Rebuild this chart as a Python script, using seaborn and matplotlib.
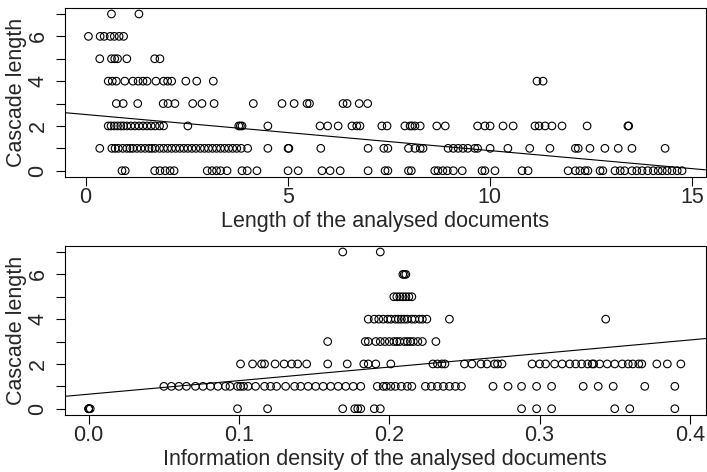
import numpy as np
import pandas as pd
import matplotlib
matplotlib.use("Agg")
import matplotlib.pyplot as plt
import seaborn as sns

# Cascade length (0..7) against document length, grouped by cascade level
length_by_level = {
    7: [0.64, 1.32],
    6: [0.07, 0.36, 0.46, 0.61, 0.71, 0.83, 0.94],
    5: [0.35, 0.64, 0.72, 0.79, 1.02, 1.71, 1.84],
    4: [0.56, 0.66, 0.76, 0.97, 1.17, 1.3, 1.42, 1.52, 1.74, 1.93, 2.03, 2.13,
        2.48, 2.75, 3.16, 11.17, 11.32],
    3: [0.76, 0.93, 1.29, 1.92, 2.04, 2.21, 2.65, 2.88, 3.18, 4.15, 4.86, 5.16,
        5.48, 5.54, 6.37, 6.47, 6.77, 6.98],
    2: [0.56, 0.63, 0.71, 0.79, 0.87, 0.94, 1.02, 1.12, 1.22, 1.32, 1.42, 1.52,
        1.62, 1.72, 1.83, 1.93, 2.53, 3.79, 3.83, 3.87, 4.51, 5.8, 5.99, 6.25,
        6.59, 6.71, 6.79, 7.33, 7.46, 7.9, 8.03, 8.08, 8.15, 8.28, 8.69, 8.9,
        9.7, 9.88, 10.01, 10.33, 10.58, 11.12, 11.22, 11.37, 11.54, 11.79,
        12.41, 13.42, 13.44],
    1: [0.35, 0.65, 0.73, 0.81, 0.92, 1.02, 1.1, 1.17, 1.27, 1.37, 1.47, 1.57,
        1.64, 1.72, 1.83, 1.93, 2.03, 2.13, 2.23, 2.33, 2.43, 2.53, 2.63, 2.73,
        2.84, 2.94, 3.04, 3.14, 3.24, 3.34, 3.44, 3.54, 3.64, 3.74, 3.85, 4.01,
        4.51, 5.01, 5.03, 5.82, 6.99, 7.38, 7.48, 7.99, 8.15, 8.28, 8.35, 8.97,
        9.1, 9.22, 9.34, 9.46, 9.63, 9.7, 10.01, 10.45, 10.99, 11.49, 12.12,
        12.19, 12.48, 12.85, 13.18, 13.52, 14.34],
    0: [0.9, 0.98, 1.71, 1.84, 1.97, 2.09, 2.19, 3.01, 3.13, 3.24, 3.34, 3.5,
        3.87, 4.0, 4.24, 5.01, 5.26, 5.85, 6.05, 6.3, 6.99, 7.41, 7.48, 7.99,
        8.06, 8.64, 8.72, 8.84, 8.95, 9.1, 9.32, 9.81, 9.88, 10.13, 10.8,
        10.95, 11.94, 12.12, 12.23, 12.36, 12.43, 12.73, 12.8, 13.1, 13.23,
        13.34, 13.52, 13.64, 13.77, 13.91, 14.05, 14.17, 14.27, 14.39, 14.51,
        14.64, 14.76],
}

# Cascade length against information density, grouped by cascade level
density_by_level = {
    7: [0.169, 0.194],
    6: [0.209, 0.210, 0.211],
    5: [0.203, 0.205, 0.207, 0.209, 0.211, 0.213, 0.215],
    4: [0.186, 0.190, 0.193, 0.196, 0.199, 0.201, 0.204, 0.206, 0.208, 0.210,
        0.212, 0.215, 0.217, 0.220, 0.222, 0.225, 0.240, 0.344],
    3: [0.159, 0.184, 0.186, 0.191, 0.194, 0.197, 0.200, 0.203, 0.205, 0.207,
        0.210, 0.212, 0.214, 0.216, 0.219, 0.222, 0.231],
    2: [0.101, 0.109, 0.115, 0.117, 0.124, 0.130, 0.135, 0.139, 0.145, 0.159,
        0.172, 0.183, 0.186, 0.191, 0.201, 0.229, 0.232, 0.235, 0.237, 0.250,
        0.255, 0.261, 0.265, 0.270, 0.272, 0.275, 0.295, 0.300, 0.304, 0.310,
        0.315, 0.320, 0.324, 0.328, 0.332, 0.335, 0.336, 0.340, 0.345, 0.350,
        0.355, 0.359, 0.362, 0.366, 0.368, 0.378, 0.385, 0.394],
    1: [0.050, 0.055, 0.060, 0.065, 0.071, 0.076, 0.081, 0.086, 0.091, 0.094,
        0.099, 0.101, 0.103, 0.106, 0.111, 0.117, 0.121, 0.125, 0.131, 0.137,
        0.141, 0.146, 0.151, 0.156, 0.161, 0.166, 0.171, 0.176, 0.181, 0.192,
        0.196, 0.198, 0.201, 0.204, 0.208, 0.212, 0.215, 0.224, 0.228, 0.232,
        0.236, 0.240, 0.244, 0.248, 0.269, 0.279, 0.288, 0.298, 0.308, 0.329,
        0.339, 0.349, 0.370, 0.390],
    0: [0.0, 0.0, 0.0, 0.001, 0.099, 0.119, 0.169, 0.177, 0.179, 0.181, 0.190,
        0.194, 0.288, 0.298, 0.308, 0.350, 0.360, 0.390],
}

# Linear trend lines (intercept, slope) for each panel
length_trend = (2.51, -0.161)
density_trend = (0.65, 6.05)

length_ticks = [0, 5, 10, 15]
density_ticks = [0.0, 0.1, 0.2, 0.3, 0.4]
density_tick_labels = ["0.0", "0.1", "0.2", "0.3", "0.4"]
cascade_ticks = [0, 1, 2, 3, 4, 5, 6, 7]
cascade_labels = ["0", "", "2", "", "4", "", "6", ""]


def to_frame(levels, xname):
    rows = [(x, y) for y, xs in levels.items() for x in xs]
    return pd.DataFrame(rows, columns=[xname, "cascade"])


docs = to_frame(length_by_level, "length")
dens = to_frame(density_by_level, "density")

sns.set_style("ticks")
plt.rcParams["font.family"] = ["Liberation Sans", "DejaVu Sans"]
plt.rcParams["axes.linewidth"] = 0.8
TICK_FS = 15.5
LABEL_FS = 15.5

fig = plt.figure(figsize=(7.07, 4.72), dpi=100)
W, H = 707, 472
LEFT, RIGHT = 65, 705.5
ax1 = fig.add_axes([LEFT / W, 1 - 177 / H, (RIGHT - LEFT) / W, 169.3 / H])
ax2 = fig.add_axes([LEFT / W, 1 - 415 / H, (RIGHT - LEFT) / W, 169.3 / H])


def panel(ax, df, xcol, xlim, xticks, xticklabels, xlabel, trend):
    ax.set_xlim(*xlim)
    ax.set_ylim(-0.28, 7.28)
    sns.scatterplot(data=df, x=xcol, y="cascade", ax=ax, marker="o", s=30,
                    facecolor="none", edgecolor="black", linewidth=0.8,
                    legend=False, zorder=3)
    ax.axline((0, trend[0]), slope=trend[1], color="black", lw=0.8)
    ax.set_xlim(*xlim)
    ax.set_ylim(-0.28, 7.28)
    ax.set_xticks(xticks)
    ax.set_xticklabels(xticklabels, fontsize=TICK_FS)
    ax.set_yticks(cascade_ticks)
    ax.set_yticklabels(cascade_labels, fontsize=TICK_FS, rotation=90,
                       va="center")
    ax.tick_params(length=6.5, width=0.8, color="black")
    ax.tick_params(axis="x", pad=0.5)
    ax.tick_params(axis="y", pad=5.3)
    ax.set_xlabel(xlabel, fontsize=LABEL_FS, labelpad=2.5)
    ax.set_ylabel("Cascade length", fontsize=LABEL_FS)
    ax.yaxis.set_label_coords((27 - LEFT) / (RIGHT - LEFT), 0.5)
    for s in ax.spines.values():
        s.set_visible(True)
        s.set_color("black")


panel(ax1, docs, "length", (-0.51, 15.34), length_ticks,
      [str(t) for t in length_ticks], "Length of the analysed documents",
      length_trend)
panel(ax2, dens, "density", (-0.0158, 0.4104), density_ticks,
      density_tick_labels, "Information density of the analysed documents",
      density_trend)

fig.savefig("out.png", dpi=100)
